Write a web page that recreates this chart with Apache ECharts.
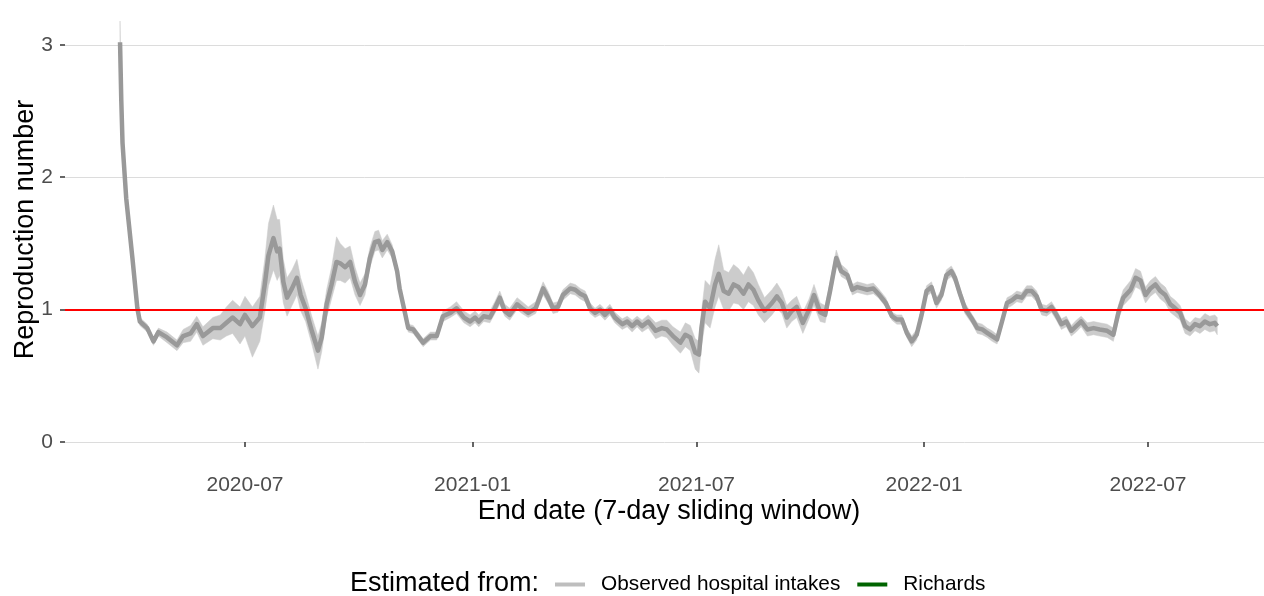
<!DOCTYPE html>
<html><head><meta charset="utf-8">
<script src="https://cdn.jsdelivr.net/npm/echarts@6/dist/echarts.min.js"></script>
<style>html,body{margin:0;padding:0;background:#fff}#c{width:1264px;height:596px}</style>
</head><body><div id="c"></div>
<script>
const FONT = '"Liberation Sans", Arial, sans-serif';
const xTickLabels = ['2020-07','2021-01','2021-07','2022-01','2022-07'];
const yTickValues = [0,1,2,3];
const refLevel = 1;
const seriesNames = ['Observed hospital intakes','Richards'];

const dates = [
'2020-03-22','2020-03-23','2020-03-24','2020-03-27','2020-04-01','2020-04-05','2020-04-07','2020-04-13','2020-04-18','2020-04-22',
'2020-04-29','2020-05-07','2020-05-12','2020-05-18','2020-05-23','2020-05-28','2020-06-05','2020-06-11','2020-06-16','2020-06-21',
'2020-06-27','2020-07-01','2020-07-07','2020-07-13','2020-07-17','2020-07-20','2020-07-24','2020-07-27','2020-07-29','2020-08-01',
'2020-08-04','2020-08-08','2020-08-12','2020-08-15','2020-08-19','2020-08-24','2020-08-29','2020-09-01','2020-09-05','2020-09-09',
'2020-09-13','2020-09-16','2020-09-20','2020-09-24','2020-09-28','2020-10-02','2020-10-06','2020-10-10','2020-10-14','2020-10-17',
'2020-10-20','2020-10-24','2020-10-28','2020-11-01','2020-11-03','2020-11-07','2020-11-10','2020-11-14','2020-11-22','2020-11-28',
'2020-12-03','2020-12-08','2020-12-14','2020-12-19','2020-12-25','2020-12-30','2021-01-03','2021-01-06','2021-01-10','2021-01-15',
'2021-01-19','2021-01-23','2021-01-27','2021-01-31','2021-02-06','2021-02-10','2021-02-15','2021-02-21','2021-02-27','2021-03-03',
'2021-03-07','2021-03-11','2021-03-15','2021-03-21','2021-03-25','2021-03-29','2021-04-02','2021-04-06','2021-04-10','2021-04-14',
'2021-04-18','2021-04-22','2021-04-26','2021-05-02','2021-05-06','2021-05-10','2021-05-14','2021-05-18','2021-05-23','2021-05-29',
'2021-06-03','2021-06-07','2021-06-12','2021-06-18','2021-06-22','2021-06-26','2021-06-30','2021-07-03','2021-07-05','2021-07-08',
'2021-07-12','2021-07-16','2021-07-19','2021-07-23','2021-07-27','2021-07-31','2021-08-04','2021-08-08','2021-08-12','2021-08-16',
'2021-08-20','2021-08-25','2021-08-31','2021-09-04','2021-09-08','2021-09-12','2021-09-16','2021-09-20','2021-09-25','2021-09-30',
'2021-10-04','2021-10-09','2021-10-13','2021-10-17','2021-10-22','2021-10-26','2021-10-31','2021-11-04','2021-11-08','2021-11-12',
'2021-11-16','2021-11-21','2021-11-25','2021-12-01','2021-12-06','2021-12-10','2021-12-14','2021-12-18','2021-12-22','2021-12-26',
'2021-12-30','2022-01-03','2022-01-07','2022-01-11','2022-01-15','2022-01-19','2022-01-23','2022-01-26','2022-01-30','2022-02-03',
'2022-02-09','2022-02-13','2022-02-17','2022-02-21','2022-02-25','2022-03-01','2022-03-05','2022-03-09','2022-03-13','2022-03-17',
'2022-03-21','2022-03-25','2022-03-29','2022-04-02','2022-04-06','2022-04-10','2022-04-14','2022-04-18','2022-04-22','2022-04-26',
'2022-04-30','2022-05-04','2022-05-08','2022-05-13','2022-05-18','2022-05-23','2022-05-29','2022-06-03','2022-06-07','2022-06-11',
'2022-06-17','2022-06-21','2022-06-25','2022-06-29','2022-07-03','2022-07-07','2022-07-11','2022-07-15','2022-07-19','2022-07-23',
'2022-07-27','2022-07-31','2022-08-04','2022-08-08','2022-08-12','2022-08-16','2022-08-20','2022-08-24','2022-08-26'
];

const median = [
3.02,2.58,2.26,1.84,1.39,1.01,0.91,0.86,0.76,0.83,
0.79,0.73,0.80,0.82,0.89,0.80,0.86,0.86,0.90,0.94,
0.89,0.96,0.875,0.94,1.19,1.41,1.54,1.44,1.46,1.21,
1.09,1.16,1.24,1.11,1.01,0.84,0.69,0.79,1.04,1.19,
1.36,1.35,1.32,1.36,1.21,1.11,1.19,1.39,1.51,1.52,
1.45,1.51,1.44,1.29,1.16,0.99,0.86,0.85,0.75,0.80,
0.80,0.95,0.975,1.01,0.94,0.91,0.94,0.91,0.95,0.94,
1.01,1.09,0.99,0.96,1.04,1.01,0.975,1.01,1.16,1.09,
1.01,1.02,1.11,1.16,1.15,1.12,1.10,1.01,0.975,1.0,
0.96,1.0,0.94,0.89,0.91,0.875,0.91,0.875,0.91,0.84,
0.86,0.85,0.80,0.75,0.81,0.79,0.675,0.66,0.86,1.06,
1.01,1.19,1.27,1.14,1.12,1.19,1.17,1.12,1.19,1.15,
1.07,0.99,1.05,1.10,1.05,0.94,0.99,1.02,0.90,1.0,
1.11,0.98,0.96,1.14,1.39,1.29,1.26,1.15,1.17,1.16,
1.15,1.16,1.12,1.05,0.95,0.925,0.925,0.825,0.76,0.81,
0.96,1.14,1.17,1.05,1.11,1.26,1.29,1.24,1.12,1.01,
0.925,0.86,0.85,0.825,0.80,0.775,0.91,1.05,1.07,1.10,
1.09,1.14,1.14,1.10,1.0,0.99,1.02,0.96,0.89,0.91,
0.84,0.875,0.91,0.85,0.86,0.85,0.84,0.81,0.975,1.09,
1.15,1.24,1.22,1.11,1.16,1.19,1.14,1.11,1.04,1.01,
0.975,0.875,0.85,0.89,0.875,0.91,0.89,0.90,0.875
];

const lower = [
2.95,2.54,2.22,1.80,1.35,0.97,0.88,0.83,0.73,0.80,
0.75,0.69,0.75,0.76,0.83,0.73,0.78,0.77,0.80,0.82,
0.74,0.80,0.64,0.76,0.98,1.18,1.30,1.22,1.26,1.05,
0.95,1.03,1.11,0.99,0.91,0.74,0.55,0.68,0.94,1.08,
1.22,1.22,1.20,1.24,1.11,1.03,1.11,1.32,1.44,1.45,
1.39,1.45,1.39,1.25,1.12,0.96,0.83,0.82,0.72,0.77,
0.77,0.91,0.94,0.97,0.90,0.87,0.90,0.87,0.91,0.90,
0.97,1.04,0.95,0.92,1.00,0.97,0.94,0.97,1.11,1.05,
0.97,0.98,1.07,1.12,1.11,1.08,1.06,0.97,0.94,0.96,
0.92,0.96,0.90,0.85,0.87,0.83,0.87,0.83,0.86,0.78,
0.80,0.79,0.73,0.67,0.72,0.69,0.55,0.52,0.72,0.90,
0.86,1.02,1.10,1.00,0.99,1.05,1.04,1.00,1.06,1.03,
0.96,0.90,0.96,1.01,0.97,0.86,0.91,0.94,0.82,0.93,
1.03,0.91,0.90,1.08,1.34,1.25,1.22,1.11,1.13,1.12,
1.11,1.12,1.09,1.02,0.92,0.89,0.89,0.79,0.72,0.77,
0.92,1.10,1.13,1.01,1.07,1.22,1.25,1.20,1.08,0.97,
0.89,0.82,0.81,0.79,0.76,0.74,0.87,1.01,1.03,1.06,
1.05,1.10,1.10,1.06,0.96,0.95,0.98,0.92,0.85,0.87,
0.80,0.83,0.87,0.80,0.81,0.80,0.79,0.76,0.92,1.03,
1.09,1.17,1.15,1.05,1.10,1.13,1.08,1.05,0.98,0.95,
0.92,0.82,0.80,0.84,0.82,0.85,0.83,0.84,0.81
];

const upper = [
3.18,2.63,2.30,1.88,1.43,1.05,0.94,0.89,0.79,0.86,
0.83,0.77,0.85,0.88,0.95,0.87,0.94,0.96,1.02,1.07,
1.02,1.10,1.02,1.10,1.38,1.65,1.79,1.68,1.68,1.38,
1.24,1.30,1.38,1.24,1.12,0.95,0.80,0.90,1.15,1.32,
1.55,1.50,1.46,1.48,1.32,1.20,1.27,1.47,1.59,1.60,
1.52,1.57,1.49,1.33,1.20,1.02,0.89,0.88,0.78,0.83,
0.83,0.99,1.02,1.06,0.99,0.96,0.99,0.96,1.00,0.99,
1.06,1.14,1.04,1.01,1.09,1.06,1.02,1.06,1.21,1.14,
1.05,1.06,1.15,1.20,1.19,1.16,1.14,1.05,1.01,1.04,
1.00,1.04,0.98,0.93,0.95,0.92,0.95,0.92,0.96,0.90,
0.92,0.92,0.87,0.83,0.90,0.88,0.78,0.76,0.98,1.22,
1.18,1.38,1.49,1.30,1.28,1.34,1.31,1.26,1.33,1.28,
1.19,1.09,1.15,1.20,1.14,1.03,1.07,1.10,0.98,1.08,
1.19,1.05,1.03,1.21,1.45,1.34,1.30,1.19,1.21,1.20,
1.19,1.20,1.16,1.09,0.98,0.96,0.96,0.86,0.80,0.85,
1.00,1.18,1.21,1.09,1.15,1.30,1.33,1.28,1.16,1.05,
0.96,0.90,0.89,0.86,0.84,0.81,0.95,1.09,1.11,1.14,
1.13,1.18,1.18,1.14,1.04,1.03,1.06,1.00,0.93,0.95,
0.88,0.92,0.95,0.90,0.91,0.90,0.89,0.86,1.03,1.15,
1.22,1.31,1.29,1.17,1.22,1.25,1.20,1.17,1.10,1.07,
1.03,0.93,0.90,0.94,0.93,0.97,0.95,0.96,0.94
];

const chart = echarts.init(document.getElementById('c'), null, {renderer:'canvas'});
const tp = s => echarts.time.parse(s).getTime();
const xTickValues = xTickLabels.map(s => tp(s + '-01'));
const xs = dates.map(tp);

const option = {
  animation: false,
  backgroundColor: '#ffffff',
  textStyle: { fontFamily: FONT },
  grid: { left: 65, right: 0, top: -4, bottom: 133, containLabel: false },
  xAxis: {
    type: 'value',
    min: tp('2020-02-06 12:00'),
    max: tp('2022-10-02 19:00'),
    axisLine: { show: false },
    splitLine: { show: false },
    axisTick: { show: true, customValues: xTickValues, length: 5, lineStyle: { color: '#333333', width: 1.5 } },
    axisLabel: {
      customValues: xTickValues, margin: 12, color: '#4d4d4d', fontSize: 21, fontFamily: FONT,
      formatter: v => { const d = new Date(v); return d.getFullYear() + '-' + String(d.getMonth() + 1).padStart(2, '0'); }
    }
  },
  yAxis: {
    type: 'value',
    min: -0.159, max: 3.339,
    axisLine: { show: false },
    splitLine: { show: false },
    axisTick: { show: true, customValues: yTickValues, length: 5, lineStyle: { color: '#333333', width: 1.5 } },
    axisLabel: { customValues: yTickValues, margin: 12, color: '#4d4d4d', fontSize: 21, fontFamily: FONT }
  },
  legend: {
    left: 550, top: 569,
    icon: 'rect', itemWidth: 30, itemHeight: 4, itemGap: 17,
    selectedMode: false,
    textStyle: { fontSize: 20.8, color: '#000000', fontFamily: FONT, padding: [0, 0, 0, 11] },
    data: [
      { name: seriesNames[0], itemStyle: { color: '#bebebe' } },
      { name: seriesNames[1], itemStyle: { color: '#006400' } }
    ]
  },
  series: [
    {
      name: 'grid', type: 'line', symbol: 'none', z: 0, silent: true,
      lineStyle: { opacity: 0 },
      data: xs.map((x, i) => [x, lower[i]]),
      markLine: {
        z: 0, silent: true, symbol: ['none', 'none'], label: { show: false },
        lineStyle: { color: '#dcdcdc', width: 1, type: 'solid' },
        data: yTickValues.map(v => ({ yAxis: v }))
      }
    },
    {
      name: 'ribbon', type: 'custom', z: 2, silent: true,
      data: xs.map((x, i) => [x, lower[i], upper[i]]),
      encode: { x: 0, y: [1, 2] },
      renderItem: (params, api) => {
        if (params.dataIndex !== 0) return null;
        const top = [], bot = [];
        for (let i = 0; i < xs.length; i++) {
          top.push(api.coord([xs[i], upper[i]]));
          bot.push(api.coord([xs[i], lower[i]]));
        }
        return { type: 'polygon', shape: { points: top.concat(bot.reverse()) }, style: { fill: '#cccccc', stroke: '#cccccc', lineWidth: 0.5 } };
      }
    },
    {
      name: seriesNames[0], type: 'line', symbol: 'none', z: 3,
      color: '#999999',
      lineStyle: { color: '#999999', width: 4.5, join: 'round' },
      data: xs.map((x, i) => [x, median[i]]),
      markLine: {
        z: 6, silent: true, symbol: ['none', 'none'], label: { show: false },
        lineStyle: { color: '#ff0000', width: 2, type: 'solid' },
        data: [{ yAxis: refLevel }]
      }
    },
    {
      name: seriesNames[1], type: 'line', symbol: 'none', color: '#006400',
      lineStyle: { color: '#006400', width: 4 }, data: []
    }
  ],
  graphic: [
    { type: 'text', x: 669, y: 512, style: { text: 'End date (7-day sliding window)', fontSize: 27, fontFamily: FONT, fill: '#000', align: 'center', verticalAlign: 'middle', textAlign: 'center', textVerticalAlign: 'middle' } },
    { type: 'text', x: 26, y: 229.5, rotation: Math.PI / 2, style: { text: 'Reproduction number', fontSize: 27, fontFamily: FONT, fill: '#000', align: 'center', verticalAlign: 'middle', textAlign: 'center', textVerticalAlign: 'middle' } },
    { type: 'text', x: 350, y: 584, style: { text: 'Estimated from:', fontSize: 27, fontFamily: FONT, fill: '#000', align: 'left', verticalAlign: 'middle', textAlign: 'left', textVerticalAlign: 'middle' } }
  ]
};
chart.setOption(option);
</script></body></html>
